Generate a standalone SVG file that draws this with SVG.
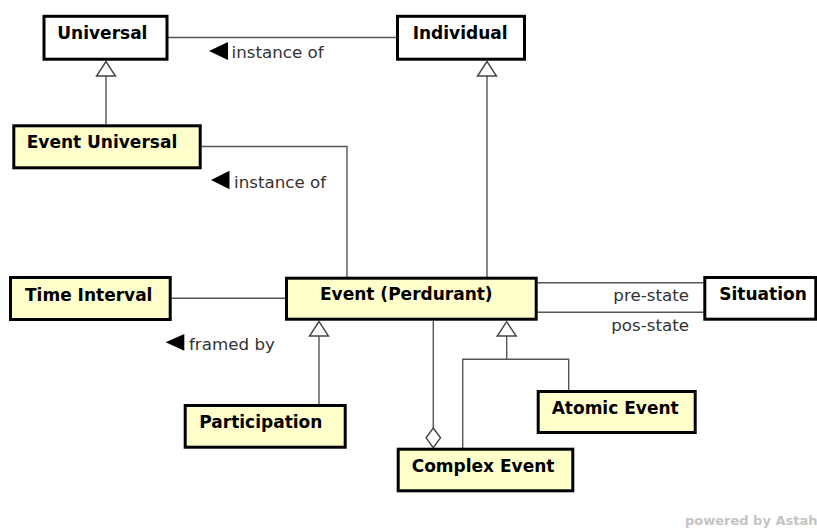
<svg xmlns="http://www.w3.org/2000/svg" width="817" height="529" viewBox="0 0 817 529">
  <style>
    .cls rect { stroke: #000; stroke-width: 3; }
    .plain rect { fill: #ffffff; }
    .event rect { fill: #ffffcc; }
    .cls text { font-family: "DejaVu Sans", "Liberation Sans", sans-serif; font-weight: bold; font-size: 17px; fill: #000; }
    .edge { fill: none; stroke: #555; stroke-width: 1.4; }
    .gen { fill: #fff; stroke: #444; stroke-width: 1.4; stroke-linejoin: miter; }
    .dir { fill: #000; }
    .lbl { font-family: "DejaVu Sans", "Liberation Sans", sans-serif; font-size: 16.7px; fill: #333; }
    .brand { font-family: "DejaVu Sans", "Liberation Sans", sans-serif; font-weight: bold; font-size: 13px; fill: #c4c4c4; }
  </style>
  <rect width="817" height="529" fill="#fff"/>

  <!-- connectors -->
  <g id="connectors">
    <!-- Universal — Individual : instance of -->
    <line class="edge" x1="168" y1="37.5" x2="396" y2="37.5"/>
    <polygon class="dir" points="209,51 228,42 228,60"/>
    <text class="lbl" x="231.5" y="57.5">instance of</text>

    <!-- Event Universal generalizes Universal -->
    <line class="edge" x1="106" y1="76" x2="106" y2="124"/>
    <polygon class="gen" points="106,61.5 96.5,76 115.5,76"/>

    <!-- Event Universal — Event : instance of -->
    <polyline class="edge" points="201.5,146.5 347,146.5 347,277"/>
    <polygon class="dir" points="211,180 229.5,170.7 229.5,189.3"/>
    <text class="lbl" x="234" y="188">instance of</text>

    <!-- Event generalizes Individual -->
    <line class="edge" x1="487" y1="76" x2="487" y2="277"/>
    <polygon class="gen" points="487,61.5 477.5,76 496.5,76"/>

    <!-- Time Interval — Event : framed by -->
    <line class="edge" x1="171.5" y1="298.3" x2="285" y2="298.3"/>
    <polygon class="dir" points="165.7,342.3 184.3,334 184.3,350.7"/>
    <text class="lbl" x="189" y="350">framed by</text>

    <!-- Participation generalizes Event -->
    <line class="edge" x1="319" y1="336" x2="319" y2="404"/>
    <polygon class="gen" points="319,321.5 309.5,336 328.5,336"/>

    <!-- Event — Situation : pre-state / pos-state -->
    <line class="edge" x1="537.5" y1="282.7" x2="703.5" y2="282.7"/>
    <line class="edge" x1="537.5" y1="312.3" x2="703.5" y2="312.3"/>
    <text class="lbl" x="689" y="301" text-anchor="end">pre-state</text>
    <text class="lbl" x="689" y="331" text-anchor="end">pos-state</text>

    <!-- Complex Event aggregates Event -->
    <line class="edge" x1="433.3" y1="320.7" x2="433.3" y2="428"/>
    <polygon class="gen" points="433.3,428 440.5,437.8 433.3,447.7 426.1,437.8"/>

    <!-- Atomic Event / Complex Event generalize Event -->
    <polyline class="edge" points="462.7,448 462.7,359.3 568.7,359.3 568.7,390"/>
    <line class="edge" x1="506.7" y1="336" x2="506.7" y2="359.3"/>
    <polygon class="gen" points="506.7,321.7 497.2,336 516.2,336"/>
  </g>

  <!-- classes -->
  <g id="universal" class="cls plain">
    <rect x="44" y="16.3" width="123" height="42.9"/>
    <text x="57.3" y="39.3">Universal</text>
  </g>
  <g id="individual" class="cls plain">
    <rect x="397.5" y="16.3" width="127" height="42.9"/>
    <text x="412.7" y="39.3">Individual</text>
  </g>
  <g id="event-universal" class="cls event">
    <rect x="13.8" y="125.8" width="186.4" height="42"/>
    <text x="26.7" y="148.3">Event Universal</text>
  </g>
  <g id="time-interval" class="cls event">
    <rect x="10.5" y="277.5" width="159.7" height="42"/>
    <text x="25" y="300.7">Time Interval</text>
  </g>
  <g id="event-perdurant" class="cls event">
    <rect x="286.5" y="278.2" width="249.7" height="41"/>
    <text x="320" y="300">Event (Perdurant)</text>
  </g>
  <g id="situation" class="cls plain">
    <rect x="704.8" y="277.5" width="111" height="41.7"/>
    <text x="719.3" y="300">Situation</text>
  </g>
  <g id="participation" class="cls event">
    <rect x="185.2" y="405.5" width="160" height="41.7"/>
    <text x="199.3" y="427.7">Participation</text>
  </g>
  <g id="atomic-event" class="cls event">
    <rect x="538.2" y="391.5" width="157" height="41"/>
    <text x="551.7" y="414">Atomic Event</text>
  </g>
  <g id="complex-event" class="cls event">
    <rect x="398.2" y="449.2" width="174.6" height="41.6"/>
    <text x="411.7" y="472">Complex Event</text>
  </g>

  <text class="brand" x="685" y="525">powered by Astah</text>
</svg>
